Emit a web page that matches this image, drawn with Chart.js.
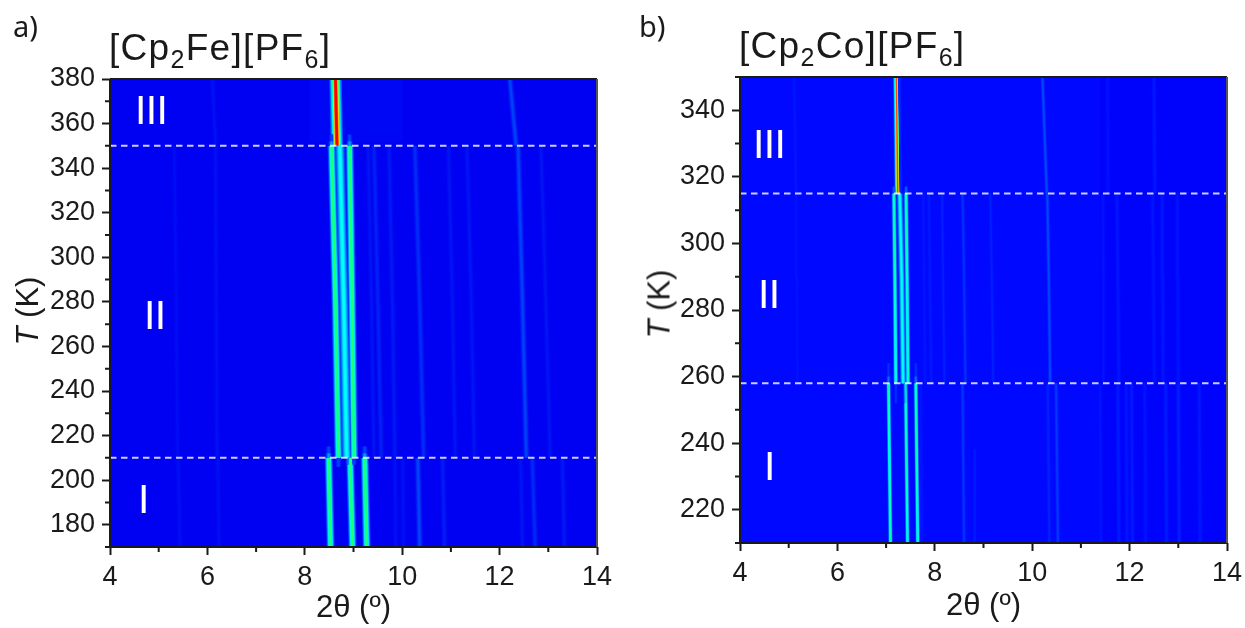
<!DOCTYPE html>
<html>
<head>
<meta charset="utf-8">
<title>[Cp2Fe][PF6] and [Cp2Co][PF6]</title>
<script src="https://cdn.jsdelivr.net/npm/chart.js@4"></script>
<style>
  html, body { margin: 0; padding: 0; background: #fff; }
  #page { position: relative; width: 1245px; height: 628px; overflow: hidden; font-family: "Liberation Sans", sans-serif; color: #1a1a1a; }
  canvas { position: absolute; top: 0; }
  .txt { position: absolute; white-space: nowrap; line-height: 1; }
  .title { font-size: 37px; letter-spacing: 1.3px; }
  .title sub { font-size: 25px; line-height: 0; vertical-align: -8px; }
  .tag { font-family: "Noto Sans", sans-serif; font-size: 29px; }
  .phase { color: #fff; font-size: 41px; letter-spacing: -0.6px; }
  .ytitle { font-size: 31px; transform: translate(-50%, -50%) rotate(-90deg); }
</style>
</head>
<body>
<div id="page">
  <canvas id="chart-a" width="620" height="628" style="left:0"></canvas>
  <canvas id="chart-b" width="640" height="628" style="left:620px"></canvas>

  <div class="txt tag" style="left:13px;top:11px">a)</div>
  <div class="txt tag" style="left:639px;top:11px">b)</div>
  <div class="txt title" style="left:109px;top:29px">[Cp<sub>2</sub>Fe][PF<sub>6</sub>]</div>
  <div class="txt title" style="left:739px;top:27px">[Cp<sub>2</sub>Co][PF<sub>6</sub>]</div>
  <div class="txt ytitle" style="left:27px;top:311px"><i>T</i> (K)</div>
  <div class="txt ytitle" style="left:659px;top:304px"><i>T</i> (K)</div>

  <div class="txt phase" style="left:135px;top:90px">III</div>
  <div class="txt phase" style="left:144px;top:295px">II</div>
  <div class="txt phase" style="left:138px;top:479px">I</div>
  <div class="txt phase" style="left:753px;top:124px">III</div>
  <div class="txt phase" style="left:758px;top:274px">II</div>
  <div class="txt phase" style="left:764px;top:446px">I</div>
</div>

<script>
// ---------------------------------------------------------------------------
// Data: 2theta of each reflection at the phase's temperatures
// ---------------------------------------------------------------------------

const angleTicks = [4, 6, 8, 10, 12, 14];
const angleMinor = [5, 7, 9, 11, 13];

// [Cp2Fe][PF6]
const feTempTicks = [180, 200, 220, 240, 260, 280, 300, 320, 340, 360, 380];
const feTempMinor = [170, 190, 210, 230, 250, 270, 290, 310, 330, 350, 370];
const feTransitions = [210, 350];

const feTempsI = [170, 210];
const feAnglesI = [
  [8.53, 8.49], [8.98, 8.93], [9.27, 9.23], [5.44, 5.40], [6.24, 6.21], [9.87, 9.85], [10.03, 10.01],
  [10.36, 10.32], [10.87, 10.83], [12.47, 12.43], [12.73, 12.67], [13.33, 13.29]
];
const feLevelsI = [0.58, 0.58, 0.58, 0.018, 0.018, 0.02, 0.02, 0.085, 0.035, 0.025, 0.05, 0.03];

const feTempsII = [210, 280, 350];
const feAnglesII = [
  [8.69, 8.63, 8.55], [8.86, 8.80, 8.72], [9.01, 8.97, 8.92], [5.39, 5.36, 5.32], [6.20, 6.18, 6.17],
  [9.42, 9.37, 9.30], [9.57, 9.50, 9.42], [9.85, 9.80, 9.73], [10.44, 10.36, 10.26], [11.09, 11.03, 10.95],
  [11.48, 11.42, 11.33], [12.55, 12.47, 12.38], [13.04, 12.95, 12.85]
];
const feLevelsII = [0.58, 0.38, 0.58, 0.015, 0.02, 0.025, 0.04, 0.03, 0.055, 0.025, 0.025, 0.08, 0.025];

const feTempsIII = [350, 380];
const feAnglesIII = [[8.66, 8.63], [12.34, 12.21], [6.17, 6.10]];
const feLevelsIII = [1, 0.08, 0.02];

// short fading stubs that run past a transition: angle, low T, high T, level
const feStubAngles = [8.49, 8.49, 9.23, 9.23, 8.55, 8.55, 8.92, 8.92, 8.69, 8.90, 9.01];
const feStubLow = [210, 212, 210, 212, 350, 352, 350, 352, 206, 207, 207];
const feStubHigh = [212, 215, 212, 215, 352, 355, 352, 355, 210, 210, 210];
const feStubLevels = [0.2, 0.08, 0.2, 0.08, 0.2, 0.08, 0.2, 0.08, 0.08, 0.16, 0.08];

// faintly lighter or darker background bands: centre angle, low T, high T
const feBand = [9.05, 352, 380];

// [Cp2Co][PF6]
const coTempTicks = [220, 240, 260, 280, 300, 320, 340];
const coTempMinor = [210, 230, 250, 270, 290, 310, 330, 350];
const coTransitions = [258, 315];

const coTempsI = [210, 258];
const coAnglesI = [
  [7.09, 7.05], [7.44, 7.40], [7.65, 7.61], [8.60, 8.57], [10.35, 10.32], [10.53, 10.49], [7.74, 7.71],
  [11.41, 11.39], [11.78, 11.76], [11.95, 11.93], [12.06, 12.04], [12.33, 12.31], [12.76, 12.74], [13.02, 13.0], [13.45, 13.43]
];
const coLevelsI = [0.5, 0.48, 0.5, 0.06, 0.035, 0.065, 0.02, 0.015, 0.025, 0.02, 0.025, 0.015, 0.025, 0.03, 0.02];

const coTempsII = [258, 290, 315];
const coAnglesII = [
  [7.20, 7.18, 7.16], [7.35, 7.32, 7.28], [7.45, 7.43, 7.41], [5.18, 5.17, 5.15], [7.80, 7.78, 7.76],
  [7.93, 7.90, 7.88], [8.20, 8.17, 8.15], [8.63, 8.60, 8.57], [9.20, 9.17, 9.14], [10.37, 10.34, 10.31],
  [11.47, 11.46, 11.45], [11.78, 11.76, 11.74], [12.51, 12.49, 12.47], [12.69, 12.68, 12.67], [13.0, 12.99, 12.98]
];
const coLevelsII = [0.48, 0.38, 0.48, 0.015, 0.02, 0.025, 0.03, 0.055, 0.03, 0.085, 0.015, 0.02, 0.015, 0.02, 0.015];

const coTempsIII = [315, 350];
const coAnglesIII = [[7.24, 7.21], [5.15, 5.11], [10.30, 10.21], [7.30, 7.27], [12.52, 12.50], [11.56, 11.55]];
const coLevelsIII = [0.9, 0.02, 0.085, 0.04, 0.02, 0.012];

const coStubAngles = [7.05, 7.05, 7.61, 7.61, 7.16, 7.41, 7.20, 7.40, 8.82];
const coStubLow = [258, 260, 258, 260, 315, 315, 252, 252, 210];
const coStubHigh = [260, 264, 260, 264, 317, 317, 258, 258, 238];
const coStubLevels = [0.14, 0.05, 0.14, 0.05, 0.12, 0.12, 0.05, 0.09, 0.025];

const coBand = [12.7, 210, 350];

// ---------------------------------------------------------------------------
// Drawing helpers
// ---------------------------------------------------------------------------

const LAYERS = [0.1, 0.22, 0.36, 0.5, 0.64, 0.78, 0.9];
const INK = '#1a1a1a';

// rainbow map, background blue -> cyan -> green -> yellow -> red
function heat(v, bg) {
  const stops = [[0, bg], [0.14, [0, 125, 255]], [0.33, [0, 255, 255]], [0.5, [0, 255, 130]],
                 [0.68, [255, 255, 0]], [0.86, [255, 0, 0]], [1, [225, 0, 0]]];
  for (let i = 1; i < stops.length; i++) {
    if (v <= stops[i][0]) {
      const k = (v - stops[i - 1][0]) / (stops[i][0] - stops[i - 1][0]);
      const c = stops[i - 1][1].map((a, n) => Math.round(a + (stops[i][1][n] - a) * k));
      return `rgb(${c[0]},${c[1]},${c[2]})`;
    }
  }
  return 'rgb(225,0,0)';
}

// one reflection = a stack of lines, wide+dim below narrow+bright, like a gaussian peak
function ridge(angles, temps, level, sigma, bg) {
  return LAYERS.map(f => ({
    data: angles.map((a, i) => ({ x: a, y: temps[i] })),
    borderColor: heat(level * f, bg),
    borderWidth: 2 * sigma * Math.sqrt(-2 * Math.log(f)),
    order: 10 - f * 10,
    showLine: true, pointRadius: 0, clip: 0,
  }));
}

function phaseRidges(anglesList, temps, levels, bright, faint, bg) {
  return anglesList.flatMap((a, i) => {
    const l = levels[i];
    const sigma = l > 0.45 ? bright : l > 0.3 ? bright * 1.35 : faint;
    return ridge(a, temps, l, sigma, bg);
  });
}

function stubRidges(angles, low, high, levels, sigma, bg) {
  return angles.flatMap((a, i) => ridge([a, a], [low[i], high[i]], levels[i], sigma, bg));
}

function bandLine(band, width, colour) {
  return {
    data: [{ x: band[0], y: band[1] }, { x: band[0], y: band[2] }],
    borderColor: colour, borderWidth: width, order: 20,
    showLine: true, pointRadius: 0, clip: 0,
  };
}

function dashedLines(temps) {
  return temps.map(t => ({
    data: [{ x: 4, y: t }, { x: 14, y: t }],
    borderColor: 'rgba(255,255,255,.8)', borderWidth: 2, borderDash: [6.5, 4.5],
    order: -1, showLine: true, pointRadius: 0,
  }));
}

function framePlugin(bg, xMinor, yMinor) {
  return {
    id: 'frame',
    beforeDatasetsDraw(chart) {
      const a = chart.chartArea, c = chart.ctx;
      c.save();
      c.fillStyle = `rgb(${bg.join(',')})`;
      c.fillRect(a.left, a.top, a.right - a.left, a.bottom - a.top);
      c.restore();
    },
    afterDraw(chart) {
      const a = chart.chartArea, c = chart.ctx;
      c.save();
      c.strokeStyle = INK;
      c.lineWidth = 2;
      c.beginPath();
      xMinor.forEach(v => { const p = chart.scales.x.getPixelForValue(v); c.moveTo(p, a.bottom); c.lineTo(p, a.bottom + 5); });
      yMinor.forEach(v => { const p = chart.scales.y.getPixelForValue(v); c.moveTo(a.left, p); c.lineTo(a.left - 5, p); });
      c.stroke();
      c.beginPath();
      c.moveTo(a.left, a.top); c.lineTo(a.right, a.top);
      c.moveTo(a.left, a.top); c.lineTo(a.left, a.bottom); c.lineTo(a.right, a.bottom);
      c.stroke();
      c.strokeStyle = '#555';
      c.beginPath();
      c.moveTo(a.right, a.top); c.lineTo(a.right, a.bottom);
      c.stroke();
      c.restore();
    }
  };
}

function makeChart(id, cfg) {
  const tickFont = { family: '"Liberation Sans"', size: 27 };
  const grid = { drawOnChartArea: false, drawTicks: true, tickLength: 8, tickWidth: 2, tickColor: INK };
  return new Chart(document.getElementById(id), {
    type: 'scatter',
    data: { datasets: cfg.datasets },
    plugins: [framePlugin(cfg.bg, angleMinor, cfg.yMinor)],
    options: {
      responsive: false, animation: false, devicePixelRatio: 1,
      layout: { padding: { top: cfg.top, right: cfg.right, left: 0, bottom: 0 } },
      plugins: { legend: { display: false }, tooltip: { enabled: false }, title: { display: false } },
      scales: {
        x: {
          type: 'linear', min: 4, max: 14,
          afterBuildTicks: s => { s.ticks = angleTicks.map(value => ({ value })); },
          afterFit: s => { s.height = cfg.xHeight; },
          grid, border: { display: false },
          ticks: { font: tickFont, color: INK, padding: 6, maxRotation: 0, autoSkip: false },
          title: { display: true, text: '2θ (º)', color: INK, font: { family: '"Liberation Sans"', size: 31 }, padding: { top: 0, bottom: cfg.titleGap } },
        },
        y: {
          type: 'linear', min: cfg.yMin, max: cfg.yMax,
          afterBuildTicks: s => { s.ticks = cfg.yTicks.map(value => ({ value })); },
          afterFit: s => { s.width = cfg.yWidth; },
          grid, border: { display: false },
          ticks: { font: tickFont, color: INK, padding: 7, autoSkip: false },
        },
      },
    },
  });
}

// ---------------------------------------------------------------------------
// Panels
// ---------------------------------------------------------------------------

const feBg = [0, 0, 242];
const coBg = [0, 8, 255];

makeChart('chart-a', {
  bg: feBg, top: 79, right: 23, xHeight: 81, yWidth: 110, titleGap: 1,
  yMin: 170, yMax: 380, yTicks: feTempTicks, yMinor: feTempMinor,
  datasets: [
    ...dashedLines(feTransitions),
    bandLine(feBand, 93, 'rgb(0,7,245)'),
    ...phaseRidges(feAnglesIII, feTempsIII, feLevelsIII, 2.9, 1.7, feBg),
    ...phaseRidges(feAnglesII, feTempsII, feLevelsII, 1.9, 1.7, feBg),
    ...phaseRidges(feAnglesI, feTempsI, feLevelsI, 1.9, 1.7, feBg),
    ...stubRidges(feStubAngles, feStubLow, feStubHigh, feStubLevels, 1.6, feBg),
  ],
});

makeChart('chart-b', {
  bg: coBg, top: 77, right: 33, xHeight: 85, yWidth: 120, titleGap: 3,
  yMin: 210, yMax: 350, yTicks: coTempTicks, yMinor: coTempMinor,
  datasets: [
    ...dashedLines(coTransitions),
    bandLine(coBand, 127, 'rgb(0,3,252)'),
    ...phaseRidges(coAnglesIII, coTempsIII, coLevelsIII, 1.5, 1.1, coBg),
    ...phaseRidges(coAnglesII, coTempsII, coLevelsII, 1.15, 1.1, coBg),
    ...phaseRidges(coAnglesI, coTempsI, coLevelsI, 1.05, 1.1, coBg),
    ...stubRidges(coStubAngles, coStubLow, coStubHigh, coStubLevels, 1, coBg),
  ],
});
</script>
</body>
</html>
